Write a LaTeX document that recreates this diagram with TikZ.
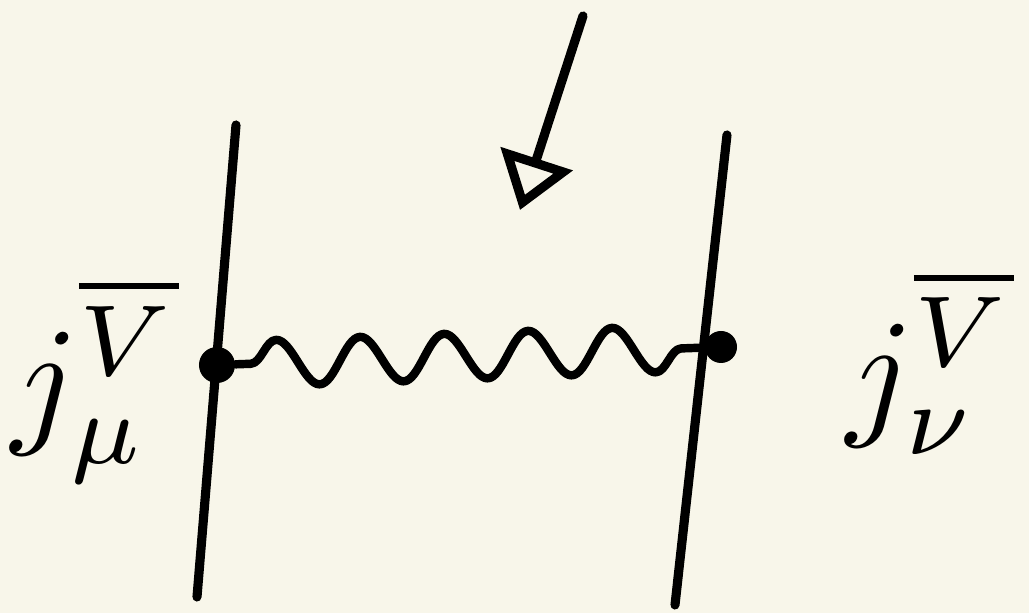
\documentclass[tikz,border=0pt]{standalone}
\usepackage{tikz}
\usetikzlibrary{arrows.meta,decorations.pathmorphing}
\usepackage{xcolor}
\definecolor{PaperBg}{RGB}{248,246,234}
\definecolor{InkBlack}{RGB}{0,0,0}

\begin{document}
\begin{tikzpicture}[
    x=0.01cm, y=-0.01cm,
    leg/.style={line width=2.6pt, line cap=round, draw=InkBlack},
    blob/.style={circle, fill=InkBlack, inner sep=0pt},
    wiggle/.style={line width=2.4pt, line cap=round, line join=round, draw=InkBlack,
        decorate, decoration={snake, segment length=0.84cm, amplitude=0.23cm, pre length=0.15cm, post length=0.2cm}},
    current/.style={scale=4.1, text=InkBlack, inner sep=0pt},
]
\fill[PaperBg] (0,0) rectangle (1029,613);
\useasboundingbox (0,0) rectangle (1029,613);

\coordinate (ltop) at (236,125);
\coordinate (lbot) at (197,597);
\coordinate (rtop) at (727,135);
\coordinate (rbot) at (675,605);
\draw[leg] (ltop) -- (lbot);
\draw[leg] (rtop) -- (rbot);

\node[blob, minimum size=0.36cm] (ldot) at (217,365) {};
\node[blob, minimum size=0.32cm] (rdot) at (721,347) {};
\draw[wiggle] (ldot) -- (rdot);

\coordinate (ptail) at (583,16);
\coordinate (phead) at (520,210);
\draw[leg, -{Triangle[open, length=0.54cm, width=0.74cm]}] (ptail) -- (phead);

\node[current] (jmu) at (95,380) {$j_\mu^{\overline{V}}$};
\node[current] (jnu) at (930,362) {$j_\nu^{\overline{V}}$};
\end{tikzpicture}
\end{document}
